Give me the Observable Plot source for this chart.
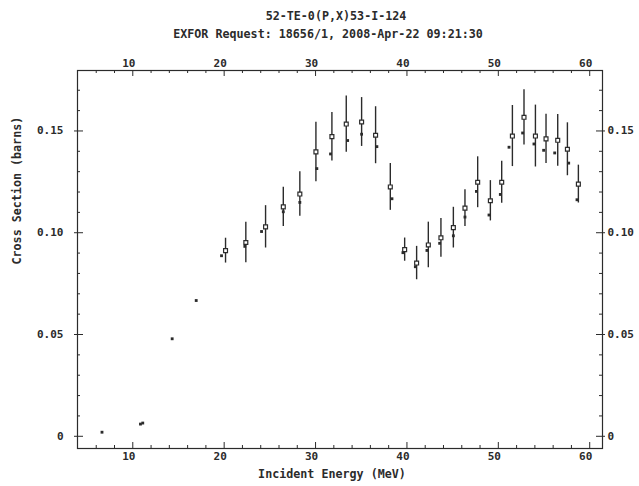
<!DOCTYPE html>
<html><head><meta charset="utf-8">
<script src="https://cdn.jsdelivr.net/npm/d3@7"></script>
<script src="https://cdn.jsdelivr.net/npm/@observablehq/plot@0.6"></script>
<style>body{margin:0;background:#fff} #chart{width:639px;height:486px}</style>
</head><body><div id="chart"></div>
<script>
// ---- data ----
const titleLine1 = "52-TE-0(P,X)53-I-124";
const titleLine2 = "EXFOR Request: 18656/1, 2008-Apr-22 09:21:30";
const xTitle = "Incident Energy (MeV)";
const yTitle = "Cross Section (barns)";

// series 1: open squares with error bars
const energy1 = [20.15,22.37,24.53,26.47,28.28,30.04,31.79,33.36,35.04,36.57,38.18,39.75,41.06,42.34,43.72,45.08,46.35,47.74,49.13,50.37,51.54,52.81,54.06,55.22,56.5,57.56,58.76];
const xs1     = [0.0912,0.0952,0.1029,0.1127,0.119,0.1397,0.1472,0.1534,0.1544,0.1479,0.1225,0.0917,0.0851,0.094,0.0975,0.1025,0.1121,0.1248,0.1157,0.1248,0.1475,0.1567,0.1475,0.1461,0.1454,0.141,0.1239];
const err1    = [0.0061,0.0099,0.0104,0.0096,0.0109,0.0146,0.0119,0.0138,0.012,0.014,0.0115,0.0057,0.0082,0.0112,0.0095,0.01,0.009,0.0125,0.0099,0.0103,0.015,0.0136,0.0152,0.0121,0.0127,0.013,0.0093];

// series 2: small filled points
const energy2 = [6.63,10.84,11.09,14.31,16.94,19.71,22.26,24.09,26.47,28.28,30.14,31.64,33.51,35.04,36.71,38.36,39.56,40.92,42.19,43.58,45.08,46.35,47.6,48.98,50.22,51.17,52.66,53.9,54.96,56.17,57.7,58.61];
const xs2     = [0.002,0.006,0.0065,0.0479,0.0667,0.0887,0.0933,0.1006,0.1103,0.1149,0.1315,0.1387,0.1453,0.1484,0.1423,0.1167,0.0902,0.0833,0.0913,0.0948,0.0985,0.1077,0.1203,0.1087,0.1188,0.142,0.149,0.1436,0.1405,0.1392,0.1342,0.1162];

// ticks
const xMajor = [10,20,30,40,50,60];
const xMinor = [6,8,12,14,16,18,22,24,26,28,32,34,36,38,42,44,46,48,52,54,56,58];
const yMajor = [0,0.05,0.10,0.15];
const yMinor = [0.01,0.02,0.03,0.04,0.06,0.07,0.08,0.09,0.11,0.12,0.13,0.14,0.16,0.17];

// ---- build ----
const s1 = energy1.map((e,i)=>({E:e, v:xs1[i], lo:xs1[i]-err1[i], hi:xs1[i]+err1[i]}));
const s2 = energy2.map((e,i)=>({E:e, v:xs2[i]}));

const W=639, H=486, mt=70, mb=38, ml=77, mr=37;
const pw = W-ml-mr, ph = H-mt-mb;
const ink = "#2b2b2b";
const font = "'DejaVu Sans Mono', monospace";
const yfmt = d => d===0 ? "0" : d.toFixed(2);

const plot = Plot.plot({
  width:W, height:H, marginTop:mt, marginBottom:mb, marginLeft:ml, marginRight:mr,
  style:{fontFamily:font, fontWeight:"bold", fontSize:"11px", background:"#fff", color:ink},
  x:{domain:[3.95,61.4]},
  y:{domain:[-0.006,0.1797]},
  marks:[
    Plot.frame({stroke:ink, strokeWidth:1.2}),
    // bottom ticks (inward)
    Plot.tickX(xMajor,{x:d=>d, insetTop:ph-6, stroke:ink}),
    Plot.tickX(xMinor,{x:d=>d, insetTop:ph-3, stroke:ink}),
    // top ticks (inward)
    Plot.tickX(xMajor,{x:d=>d, insetBottom:ph-6, stroke:ink}),
    Plot.tickX(xMinor,{x:d=>d, insetBottom:ph-3, stroke:ink}),
    // left ticks
    Plot.tickY(yMajor,{y:d=>d, insetLeft:-3, insetRight:pw-6, stroke:ink}),
    Plot.tickY(yMinor,{y:d=>d, insetRight:pw-3, stroke:ink}),
    // right ticks
    Plot.tickY(yMajor,{y:d=>d, insetRight:-3, insetLeft:pw-6, stroke:ink}),
    Plot.tickY(yMinor,{y:d=>d, insetLeft:pw-3, stroke:ink}),
    // tick labels
    Plot.axisX(xMajor,{anchor:"bottom", tickSize:0, tickPadding:4, dx:-4, tickFormat:d=>String(d), label:null, fill:ink}),
    Plot.axisX(xMajor,{anchor:"top", tickSize:0, tickPadding:4, dx:-4, tickFormat:d=>String(d), label:null, fill:ink}),
    Plot.axisY(yMajor,{anchor:"left", tickSize:0, tickPadding:14, tickFormat:yfmt, label:null, fill:ink}),
    Plot.axisY(yMajor,{anchor:"right", tickSize:0, tickPadding:5, tickFormat:yfmt, label:null, fill:ink}),
    // titles
    Plot.text([titleLine1],{text:d=>d, frameAnchor:"top", dy:-59, dx:-4, fontSize:11.7, fill:ink}),
    Plot.text([titleLine2],{text:d=>d, frameAnchor:"top", dy:-41, dx:-12, fontSize:11.7, fill:ink}),
    Plot.text([xTitle],{text:d=>d, frameAnchor:"bottom", dy:29, dx:-8, fontSize:11.7, fill:ink}),
    Plot.text([yTitle],{text:d=>d, frameAnchor:"left", dx:-60, dy:5, rotate:-90, fontSize:11.7, fill:ink}),
    // data
    Plot.ruleX(s1,{x:"E", y1:"lo", y2:"hi", stroke:ink, strokeWidth:1.4}),
    Plot.dot(s2,{x:"E", y:"v", symbol:"square", r:1.6, fill:ink, stroke:null}),
    Plot.dot(s1,{x:"E", y:"v", symbol:"square", r:2.2, fill:"white", stroke:ink, strokeWidth:1.2})
  ]
});
document.getElementById("chart").appendChild(plot);
</script>
</body></html>
